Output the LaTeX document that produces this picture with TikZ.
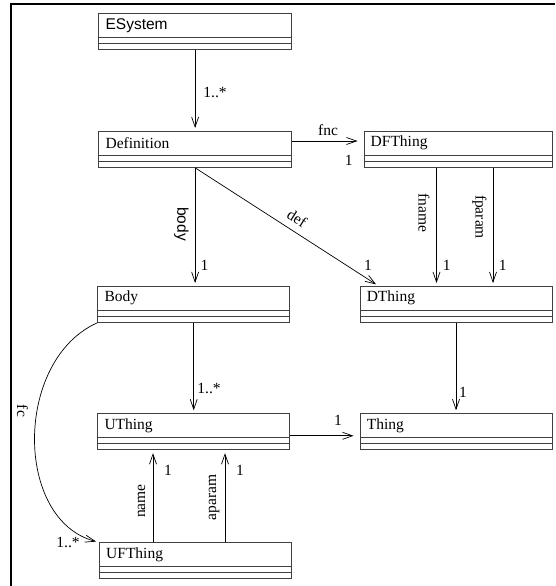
\documentclass[tikz,border=0pt]{standalone}
\usepackage{fontspec}
\setmainfont{Liberation Serif}
\newfontfamily\hsans{Liberation Sans}
\usetikzlibrary{arrows.meta}
\tikzset{
  clsbox/.style={draw=black!75, line width=0.8pt, rectangle, anchor=north west,
    minimum height=36pt, inner sep=0pt,
    path picture={
      \draw[black!75, line width=0.8pt] ([yshift=12pt]path picture bounding box.south west) -- ([yshift=12pt]path picture bounding box.south east);
      \draw[black!75, line width=0.8pt] ([yshift=6pt]path picture bounding box.south west) -- ([yshift=6pt]path picture bounding box.south east);
    }},
  clstext/.style={anchor=west, inner sep=0pt},
  conn/.style={draw=black, line width=0.7pt, -{Straight Barb[length=10pt,width=7pt,line width=0.7pt]}, shorten >=3pt},
  lbl/.style={inner sep=0pt},
  fs/.style={font=\fontsize{15.5}{18}\selectfont},
  fss/.style={font=\hsans\fontsize{15.5}{18}\selectfont},
}
\newcommand\umlcls[6]{%
  \node[clsbox, minimum width=#4pt] (#1) at (#2,#3) {};
  \node[clstext, #5] (#1-t) at ([xshift=7pt, yshift=-12pt]#1.north west) {#6};
}
\begin{document}
\begin{tikzpicture}[x=1pt, y=-1pt]
\useasboundingbox (0,0) rectangle (555,586);
\draw[line width=2pt] (11,586) -- (11,4) -- (555,4);

\umlcls{esys}{98.4}{13.3}{192.6}{fss}{ESystem}
\umlcls{def}{98.4}{131}{192.6}{fs}{Definition}
\umlcls{dft}{363.5}{131}{188.5}{fs}{DFThing}
\umlcls{body}{97.3}{286}{192}{fs}{Body}
\umlcls{dth}{359.6}{286}{192}{fs}{DThing}
\umlcls{uth}{97.3}{413.3}{192}{fs}{UThing}
\umlcls{th}{359.6}{413.3}{192}{fs}{Thing}
\umlcls{uft}{99}{542.3}{192.3}{fs}{UFThing}

% connectors
\draw[conn] (esys.south) -- (def.north);
\draw[conn, shorten >=6pt] ([yshift=-10pt]def.north east) -- ([yshift=-10pt]dft.north west);
\draw[conn] (def.south) -- (def.south |- body.north);
\draw[conn] (def.south) -- ([xshift=19pt]dth.north west);
\draw[conn] ([xshift=73pt]dft.south west) -- ([xshift=73pt]dft.south west |- dth.north);
\draw[conn] ([xshift=129.5pt]dft.south west) -- ([xshift=129.5pt]dft.south west |- dth.north);
\draw[conn] (body.south) -- (body.south |- uth.north);
\draw[conn] (dth.south) -- (dth.south |- th.north);
\draw[conn, shorten >=6pt] ([yshift=-22.5pt]uth.north east) -- ([yshift=-22.5pt]th.north west);
\draw[conn] ([xshift=54pt]uft.north west) -- ([xshift=54pt]uft.north west |- uth.south);
\draw[conn] ([xshift=126pt]uft.north west) -- ([xshift=126pt]uft.north west |- uth.south);
\draw[conn] (body.south west) .. controls (14,360) and (14,520) .. (uft.north west);

% labels
\node[lbl, fs] (m1) at (215,92.5) {1..*};
\node[lbl, fs] (lfnc) at (328,130.5) {fnc};
\node[lbl, fs] (m2) at (348.7,160) {1};
\node[lbl, fss, rotate=-90] (lbody) at (181.5,224) {body};
\node[lbl, fs] (m3) at (204.6,265) {1};
\node[lbl, fs, rotate=-32.4] (ldef) at (297,218) {def};
\node[lbl, fs] (m4) at (368,265) {1};
\node[lbl, fs, rotate=-90] (lfname) at (424,213) {fname};
\node[lbl, fs] (m5) at (446.7,265) {1};
\node[lbl, fs, rotate=-90] (lfparam) at (479.5,217) {fparam};
\node[lbl, fs] (m6) at (502.7,265) {1};
\node[lbl, fs] (m7) at (209,388) {1..*};
\node[lbl, fs] (m8) at (463,392) {1};
\node[lbl, fs] (m9) at (338,420) {1};
\node[lbl, fs, rotate=90] (lname) at (141.5,501) {name};
\node[lbl, fs] (m10) at (168,470) {1};
\node[lbl, fs, rotate=90] (laparam) at (214,497.5) {aparam};
\node[lbl, fs] (m11) at (240,470) {1};
\node[lbl, fs, rotate=-90] (lfc) at (22.5,411) {fc};
\node[lbl, fs] (m12) at (68,542) {1..*};
\end{tikzpicture}
\end{document}
